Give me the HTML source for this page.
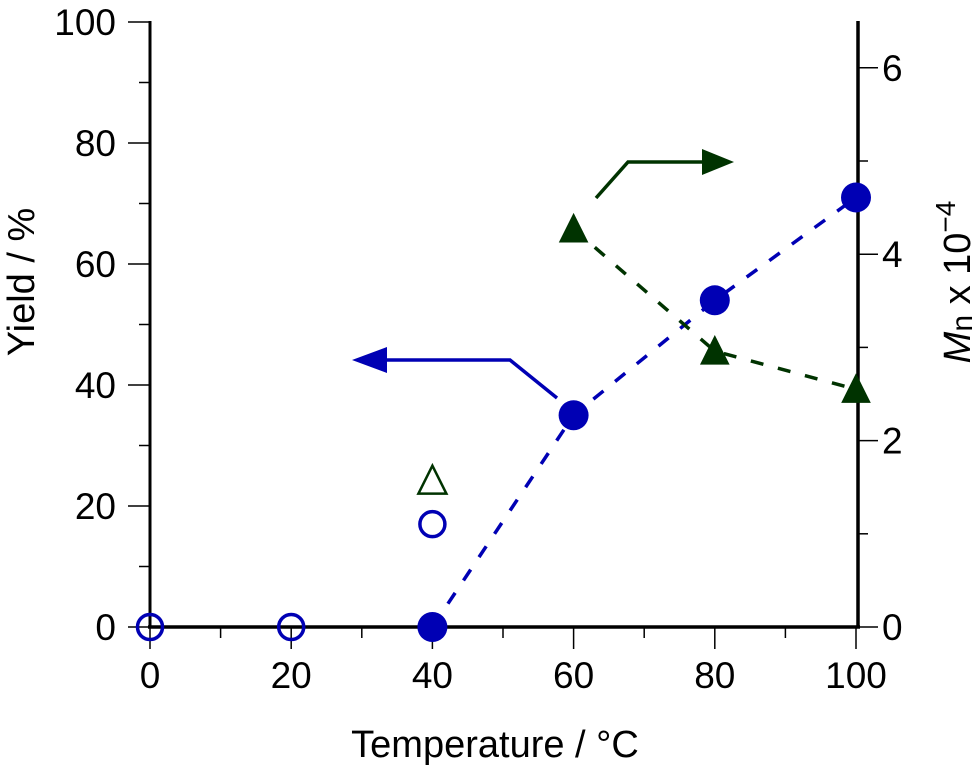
<!DOCTYPE html>
<html><head><meta charset="utf-8"><style>
html,body{margin:0;padding:0;background:#fff;}
svg text{font-family:"Liberation Sans",Arial,sans-serif;}
</style></head><body>
<svg id="chart" width="979" height="768" viewBox="0 0 979 768" xmlns="http://www.w3.org/2000/svg"></svg>
<script>
const temps = [40, 60, 80, 100];
const yieldFilled = [0, 35, 54, 71];
const openTemps = [0, 20, 40];
const yieldOpen = [0, 0, 17];
const mnTemps = [60, 80, 100];
const mnFilled = [4.27, 2.96, 2.55];
const mnOpenTemps = [40];
const mnOpen = [1.57];
const xTicks = [0, 20, 40, 60, 80, 100];
const yTicks = [0, 20, 40, 60, 80, 100];
const y2Ticks = [0, 2, 4, 6];

const NS = "http://www.w3.org/2000/svg";
const svg = document.getElementById('chart');
const X = v => 150 + v * 7.06;
const Y = v => 627 - v * 6.05;
const Y2 = v => 627 - v * 93.2;
function el(tag, attrs, parent) {
  const e = document.createElementNS(NS, tag);
  for (const k in attrs) e.setAttribute(k, attrs[k]);
  (parent || svg).appendChild(e);
  return e;
}
const BLUE = "#0000b4", GREEN = "#003300";

let a = el('line', {x1:150, y1:21, x2:150, y2:628, stroke:'#000', 'stroke-width':3});


a = el('line', {x1:858, y1:21, x2:858, y2:628, stroke:'#000', 'stroke-width':3.5});


a = el('line', {x1:148, y1:627, x2:860, y2:627, stroke:'#000', 'stroke-width':3.5});



for (let v = 0; v <= 100; v += 10) {
  const major = v % 20 === 0;
  let t = el('line', {x1:X(v), y1:627, x2:X(v), y2:627 + (major ? 22 : 11), stroke:'#000', 'stroke-width':1.5});
  
  
  t = el('line', {x1:150, y1:Y(v), x2:150 - (major ? 22 : 11), y2:Y(v), stroke:'#000', 'stroke-width':1.5});
  
  
}
for (let v = 0; v <= 6; v += 1) {
  const major = v % 2 === 0;
  const t = el('line', {x1:858, y1:Y2(v), x2:858 + (major ? 20 : 10), y2:Y2(v), stroke:'#000', 'stroke-width':1.5});
  
  
}
xTicks.forEach(v => {
  const t = el('text', {x:X(v), y:688, 'font-size':37, 'text-anchor':'middle'});
  t.textContent = v;
  
  
});
yTicks.forEach(v => {
  const t = el('text', {x:116, y:Y(v) + 13, 'font-size':37, 'text-anchor':'end'});
  t.textContent = v;
  
  
});
y2Ticks.forEach(v => {
  const t = el('text', {x:882, y:Y2(v) + 13, 'font-size':37, 'text-anchor':'start'});
  t.textContent = v;
  
  
});
let tt = el('text', {x:495, y:757, 'font-size':38, 'text-anchor':'middle'});
tt.textContent = 'Temperature / °C';


tt = el('text', {x:0, y:0, 'font-size':38, 'text-anchor':'middle', transform:'translate(34,282) rotate(-90)'});
tt.textContent = 'Yield / %';


tt = el('text', {x:0, y:0, 'font-size':38, 'text-anchor':'middle', transform:'translate(970,282) rotate(-90)'});
tt.innerHTML = '<tspan font-style="italic">M</tspan><tspan font-size="30" dy="2">n</tspan><tspan dy="-2"> x 10</tspan><tspan font-size="28" dy="-15">−4</tspan>';



let p = el('polyline', {points: temps.map((t,i)=>X(t)+','+Y(yieldFilled[i])).join(' '), fill:'none', stroke:BLUE, 'stroke-width':3.5, 'stroke-dasharray':'13 15'});


p = el('polyline', {points: mnTemps.map((t,i)=>X(t)+','+Y2(mnFilled[i])).join(' '), fill:'none', stroke:GREEN, 'stroke-width':3.5, 'stroke-dasharray':'13 15'});



temps.forEach((t,i) => {
  const c = el('circle', {cx:X(t), cy:Y(yieldFilled[i]), r:15, fill:BLUE});
  
  
});
openTemps.forEach((t,i) => {
  const c = el('circle', {cx:X(t), cy:Y(yieldOpen[i]), r:12.5, fill:'none', stroke:BLUE, 'stroke-width':3.5});
  
  
});
function tri(cx, cy, filled) {
  return el('polygon', {points:`${cx},${cy-15} ${cx-14},${cy+13} ${cx+14},${cy+13}`, fill: filled ? GREEN : 'none', stroke:GREEN, 'stroke-width': filled ? 1 : 2.5});
}
mnTemps.forEach((t,i) => {
  const m = tri(X(t), Y2(mnFilled[i]), true);
  
  
});
mnOpenTemps.forEach((t,i) => {
  const m = tri(X(t), Y2(mnOpen[i]), false);
  
  
});

let ar = el('polyline', {points:'557,398 510,360 380,360', fill:'none', stroke:BLUE, 'stroke-width':3.5});


ar = el('polygon', {points:'352,360 387,347 387,373', fill:BLUE});


ar = el('polyline', {points:'596,198 628,162 705,162', fill:'none', stroke:GREEN, 'stroke-width':3.5});


ar = el('polygon', {points:'734,162 702,149 702,175', fill:GREEN});


</script>
</body></html>
